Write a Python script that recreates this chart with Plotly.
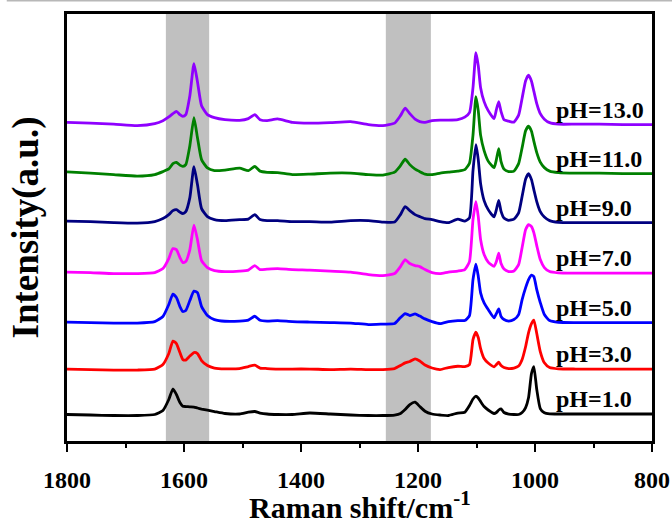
import plotly.graph_objects as go

# Raman shift axis (cm^-1), shared by all spectra
raman_shift = [
    1800, 1760, 1720, 1680, 1650, 1636, 1626,
    1619, 1613, 1607, 1602, 1597, 1590, 1583, 1577, 1570,
    1560, 1548, 1530, 1505, 1490, 1479, 1470, 1458, 1440, 1415,
    1385, 1350, 1315, 1285, 1260, 1240, 1230, 1222, 1214, 1205,
    1197, 1188, 1176, 1162, 1148, 1132, 1120, 1112, 1106, 1101,
    1097, 1093, 1087, 1080, 1070, 1066, 1062, 1058, 1053, 1045,
    1036, 1028, 1022, 1016, 1011, 1006, 1002, 997, 991, 984,
    975, 960, 930, 890, 850, 800,
]

ph_labels = ["pH=1.0", "pH=3.0", "pH=5.0", "pH=7.0", "pH=9.0", "pH=11.0", "pH=13.0"]

# Stacked intensities (a.u.)
int_ph1 = [
    27, 26.5, 26, 26, 27, 31, 42,
    52.5, 47, 39, 35.3, 35, 34.7, 34.5, 33.5, 32.5,
    31.3, 30, 28, 27.5, 29.3, 30, 28.5, 27.5, 27, 27,
    28.5, 27.5, 26.5, 26, 26, 26.5, 28, 32, 37, 39.3,
    35, 30.3, 27.5, 26.5, 26, 28.5, 29.3, 36, 42.5, 45.3,
    43.5, 40, 35, 31.5, 28, 29, 31.5, 32.7, 29, 27.5,
    27, 27, 29, 34, 44, 68, 75, 52, 33, 28.7,
    27.7, 27.5, 27.5, 27.5, 27.5, 27.5,
]
int_ph3 = [
    72.5, 72, 71.5, 71.5, 72.5, 77, 88,
    100.5, 98, 89, 82, 81.5, 85.5, 89, 88, 81,
    76, 73.5, 72.7, 73, 75, 76.3, 73.5, 73, 72.5, 72.5,
    72.5, 72, 72.5, 72, 72, 73, 76, 78.7, 80, 82.7,
    80.5, 76.5, 73.5, 72, 74, 75.3, 75, 77, 102, 109.5,
    104, 93, 83, 78.5, 74.7, 77, 79.3, 76, 74, 73,
    73.5, 75.5, 82, 95, 109, 118, 121.5, 108, 90, 78.7,
    74, 72.7, 72.5, 72.5, 72.5, 72.5,
]
int_ph5 = [
    119.5, 119, 118.5, 118.5, 120, 125, 137,
    147.5, 144, 135, 130, 131, 141, 150.5, 149, 135,
    126, 122, 120.3, 120.5, 121.5, 125.3, 121.3, 120.5, 121, 120,
    119.5, 119, 118.5, 117, 117.5, 118, 124, 128, 126, 127.7,
    125.5, 122.7, 120, 118, 120, 121, 121, 126, 162, 177.5,
    165.3, 148.7, 138.7, 132, 123.7, 128, 132.7, 125, 122, 120.5,
    122, 127, 142, 154, 162, 166.5, 165, 152, 139, 127,
    121, 119.3, 119, 119, 119, 119,
]
int_ph7 = [
    169.5, 169, 168, 168, 169, 173, 183,
    193, 192, 184, 179, 180, 192, 216.5, 202, 181,
    174, 171, 170, 170.5, 171.5, 176, 172, 172.5, 173, 172,
    171.5, 170.5, 169.5, 167, 166, 168, 175, 182, 178, 176,
    175, 172, 169, 168, 169.5, 170.5, 172, 180, 222, 240,
    225, 202, 187, 179.5, 175.3, 180, 188.5, 178, 172.5, 170,
    170.5, 177, 194, 212, 217, 215, 209, 196, 182, 174,
    170, 168.7, 168.5, 168.5, 168.5, 168.5,
]
int_ph9 = [
    220.5, 220, 219, 218.5, 220, 223, 227,
    231, 232, 229.5, 228, 230, 244, 275, 257, 233,
    225, 222, 221, 222, 222.5, 227, 222, 221, 221, 220,
    220, 219.5, 221, 221, 219.5, 219.5, 227, 235, 231, 227,
    225, 223, 222, 220, 219, 222.5, 220.5, 223.7, 271, 297,
    282, 258, 241, 232, 224.7, 232, 241.3, 230.3, 223.5, 221.3,
    222.5, 228.7, 245.3, 262.7, 268, 262, 252, 240, 230, 224.5,
    221, 219.3, 219, 219, 219, 219,
]
int_ph11 = [
    269.7, 268.5, 267, 265.5, 267, 270, 272.7,
    278, 279.3, 276.5, 275.3, 277, 296, 324, 304, 282,
    273.7, 271, 271.5, 273.5, 271, 275.3, 270.5, 269.3, 269, 267,
    267.5, 268.5, 268.5, 267, 266.5, 269.5, 276, 282.5, 277, 272.5,
    270, 267.5, 267, 268.5, 269.5, 270.5, 272, 278.4, 306.5, 345,
    331, 306.5, 291, 280.5, 274, 282, 293, 280, 272.5, 270,
    270.5, 278, 294, 311, 315.5, 310.5, 300.5, 289, 279.5, 274,
    270.5, 269, 268.5, 268.5, 268, 268,
]
int_ph13 = [
    319.3, 318.5, 317.5, 316, 318, 321, 324.7,
    328, 330.3, 327, 325.3, 327, 346, 378, 360, 336,
    327, 324, 322, 321.3, 323, 327, 322, 321, 322.7, 319.3,
    318.5, 319, 320, 317, 316, 318.5, 326, 333.5, 328, 322.5,
    320, 319.3, 321, 321.5, 321.5, 322, 324.5, 329, 354, 389,
    376, 354, 340, 331, 323, 332, 340, 330, 322, 320.5,
    319.5, 326.5, 343.5, 361, 366.5, 360.5, 350.5, 338, 328, 322.5,
    319, 317.5, 317.5, 317.5, 317, 317,
]

spectra = [int_ph1, int_ph3, int_ph5, int_ph7, int_ph9, int_ph11, int_ph13]
colors = ["#000000", "#FF0000", "#0000FF", "#FF00FF", "#000080", "#008000", "#8F00FF"]

# shaded bands (cm^-1)
bands = [(1631, 1557), (1255, 1178)]

x_title = "Raman shift/cm<sup>-1</sup>"
y_title = "Intensity(a.u.)"

for s in spectra:
    assert len(s) == len(raman_shift)

serif = "Liberation Serif, Times New Roman, serif"

fig = go.Figure()

# draw higher pH first so lower pH lines lie on top
for label, ys, color in reversed(list(zip(ph_labels, spectra, colors))):
    fig.add_trace(go.Scatter(
        x=raman_shift, y=ys, mode="lines", name=label, showlegend=False,
        line=dict(color=color, width=2.8, shape="spline", smoothing=0.5),
    ))

shapes = []
for x0, x1 in bands:
    shapes.append(dict(type="rect", xref="x", yref="paper", x0=x0, x1=x1, y0=0, y1=1,
                       fillcolor="#C0C0C0", line=dict(width=0), layer="below"))
# thin grey rule at very top of the image
shapes.append(dict(type="line", xref="paper", yref="paper", x0=-0.103, x1=1.04,
                   y0=1.0316, y1=1.0316, line=dict(color="#B8B8B8", width=2)))

annotations = []
for label, ys in zip(ph_labels, spectra):
    annotations.append(dict(
        x=967, y=ys[-1] + 15, xref="x", yref="y", text=label, showarrow=False,
        xanchor="left", yanchor="middle",
        font=dict(family=serif, size=24, color="black", weight="bold"),
    ))
# x-axis title placed below the tick labels
annotations.append(dict(
    x=0.5, y=-0.151, xref="paper", yref="paper", text=x_title, showarrow=False,
    xanchor="center", yanchor="middle",
    font=dict(family=serif, size=30, color="black", weight="bold"),
))

fig.update_layout(
    width=672, height=523,
    margin=dict(l=67, r=20, t=14, b=82),
    paper_bgcolor="white", plot_bgcolor="white",
    shapes=shapes, annotations=annotations,
    xaxis=dict(
        range=[1800, 800], dtick=200, tick0=800, automargin=False,
        showline=True, mirror=True, linecolor="black", linewidth=2.5,
        ticks="outside", ticklen=8, tickwidth=2, tickcolor="black",
        ticklabelstandoff=7,
        minor=dict(dtick=100, ticks="outside", ticklen=4, tickwidth=2, tickcolor="black"),
        showgrid=False, zeroline=False,
        tickfont=dict(family=serif, size=24, color="black", weight="bold"),
    ),
    yaxis=dict(
        range=[0.5, 427.7], showticklabels=False, ticks="", automargin=False,
        showline=True, mirror=True, linecolor="black", linewidth=2.5,
        showgrid=False, zeroline=False,
        title=dict(text=y_title,
                   font=dict(family=serif, size=37, color="black", weight="bold")),
    ),
)

fig.write_html(
    "out.html",
    config={"displayModeBar": False},
    post_script="document.body.style.margin='0';document.body.style.padding='0';",
)
